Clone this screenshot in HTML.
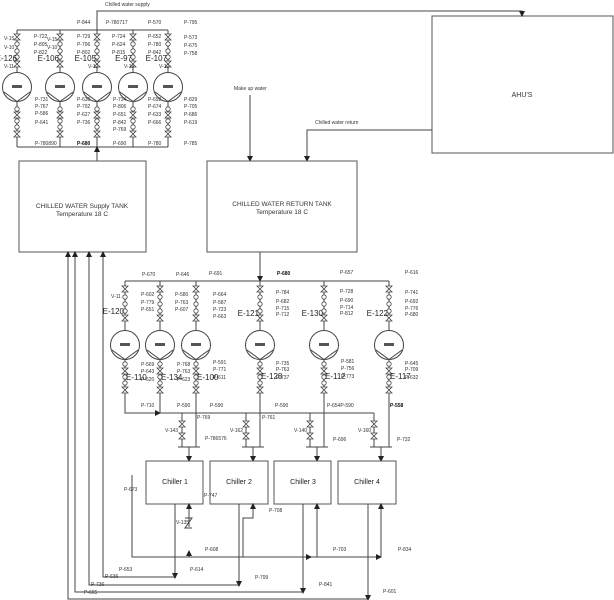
<!DOCTYPE html>
<html><head><meta charset="utf-8"><style>
html,body{margin:0;padding:0;background:#fff;}
svg{display:block;font-family:"Liberation Sans",sans-serif;}
.l{stroke:#444;stroke-width:1;fill:none;}
.t{font-size:5px;fill:#333;}
.b{font-size:5px;fill:#111;font-weight:bold;}
.e{font-size:8px;fill:#222;}
</style></head><body>
<svg width="614" height="600" viewBox="0 0 614 600" xmlns="http://www.w3.org/2000/svg">
<defs>
<marker id="a" markerWidth="6" markerHeight="6" refX="5" refY="3" orient="auto" markerUnits="userSpaceOnUse"><path d="M0,0 L6,3 L0,6 z" fill="#222"/></marker>
<g id="pump">
<circle cx="0" cy="0" r="14.5" fill="#fff" stroke="#444"/>
<polyline points="-13,5 0,14.5 13,5" fill="none" stroke="#444"/>
<rect x="-5" y="-2" width="10" height="3" fill="#555"/>
</g>
<g id="bt"><path d="M-3,-3 L3,-3 L-3,3 L3,3 z" fill="#fff" stroke="#444" stroke-width="0.8"/></g>
<g id="sc"><circle r="2.2" fill="#fff" stroke="#444" stroke-width="0.8"/></g>
<g id="topcol">
<line x1="0" y1="30" x2="0" y2="147" class="l"/>
<use href="#bt" y="37"/><use href="#sc" y="44"/><use href="#sc" y="51"/><use href="#sc" y="57"/><use href="#bt" y="64"/>
<use href="#pump" y="87"/>
<use href="#sc" y="109"/><use href="#bt" y="115"/><use href="#sc" y="121"/><use href="#sc" y="127"/><use href="#bt" y="134"/>
</g>
<g id="lowcol">
<line x1="0" y1="281" x2="0" y2="330" class="l"/>
<use href="#bt" y="289"/><use href="#sc" y="297"/><use href="#sc" y="304"/><use href="#sc" y="311"/><use href="#bt" y="318"/>
<use href="#pump" y="345"/>
<line x1="0" y1="360" x2="0" y2="400" class="l"/>
<use href="#sc" y="364"/><use href="#bt" y="371"/><use href="#sc" y="377"/><use href="#sc" y="383"/><use href="#bt" y="390"/>
</g>
</defs>

<!-- AHU -->
<rect x="432" y="16" width="181" height="137" fill="#fff" stroke="#555"/>
<text x="522" y="97" class="t" style="font-size:7px" text-anchor="middle">AHU'S</text>
<polyline points="97,30 97,11 522,11 522,16" class="l" marker-end="url(#a)"/>
<text x="105" y="6" class="t">Chilled water supply</text>
<polyline points="432,130 307,130 307,161" class="l" marker-end="url(#a)"/>
<text x="315" y="124" class="t">Chilled water return</text>
<line x1="250" y1="95" x2="250" y2="161" class="l" marker-end="url(#a)"/>
<text x="234" y="90" class="t">Make up water</text>

<!-- top pump bank -->
<line x1="17" y1="30" x2="168" y2="30" class="l"/>
<line x1="17" y1="147" x2="168" y2="147" class="l"/>
<use href="#topcol" x="17"/><use href="#topcol" x="60"/><use href="#topcol" x="97"/><use href="#topcol" x="133"/><use href="#topcol" x="168"/>
<line x1="97" y1="161" x2="97" y2="147" class="l" marker-end="url(#a)"/>
<g>
<text x="77" y="24" class="t">P-844</text><text x="106" y="24" class="t">P-780717</text><text x="148" y="24" class="t">P-570</text><text x="184" y="24" class="t">P-795</text>
<text x="4" y="40" class="t">V-15</text><text x="4" y="49" class="t">V-10</text><text x="4" y="68" class="t">V-11</text>
<text x="34" y="38" class="t">P-722</text><text x="34" y="46" class="t">P-805</text><text x="34" y="54" class="t">P-822</text>
<text x="47" y="41" class="t">V-15</text><text x="47" y="49" class="t">V-10</text>
<text x="77" y="38" class="t">P-729</text><text x="77" y="46" class="t">P-796</text><text x="77" y="54" class="t">P-802</text>
<text x="112" y="38" class="t">P-724</text><text x="112" y="46" class="t">P-624</text><text x="112" y="54" class="t">P-815</text>
<text x="148" y="38" class="t">P-652</text><text x="148" y="46" class="t">P-780</text><text x="148" y="54" class="t">P-842</text>
<text x="184" y="39" class="t">P-573</text><text x="184" y="47" class="t">P-675</text><text x="184" y="55" class="t">P-758</text>
<text x="88" y="68" class="t">V-12</text><text x="124" y="68" class="t">V-19</text><text x="159" y="68" class="t">V-12</text>
<text x="35" y="101" class="t">P-731</text><text x="35" y="108" class="t">P-767</text><text x="35" y="115" class="t">P-586</text><text x="35" y="124" class="t">P-641</text>
<text x="77" y="101" class="t">P-630</text><text x="77" y="108" class="t">P-792</text><text x="77" y="116" class="t">P-627</text><text x="77" y="124" class="t">P-736</text>
<text x="113" y="101" class="t">P-734</text><text x="113" y="108" class="t">P-806</text><text x="113" y="116" class="t">P-651</text><text x="113" y="124" class="t">P-842</text><text x="113" y="131" class="t">P-769</text>
<text x="148" y="101" class="t">P-692</text><text x="148" y="108" class="t">P-674</text><text x="148" y="116" class="t">P-633</text><text x="148" y="124" class="t">P-666</text>
<text x="184" y="101" class="t">P-829</text><text x="184" y="108" class="t">P-705</text><text x="184" y="116" class="t">P-686</text><text x="184" y="124" class="t">P-619</text>
<text x="35" y="145" class="t">P-780890</text><text x="77" y="145" class="b">P-680</text><text x="113" y="145" class="t">P-690</text><text x="148" y="145" class="t">P-780</text><text x="184" y="145" class="t">P-785</text>
</g>
<g text-anchor="end">
<text x="17" y="61" class="e">E-126</text><text x="59" y="61" class="e">E-106</text><text x="96" y="61" class="e">E-105</text><text x="132" y="61" class="e">E-97</text><text x="167" y="61" class="e">E-107</text>
</g>

<!-- tanks -->
<rect x="19" y="161" width="127" height="91" fill="#fff" stroke="#555"/>
<text x="82" y="208" class="t" style="font-size:6.5px" text-anchor="middle">CHILLED WATER Supply  TANK</text>
<text x="82" y="216" class="t" style="font-size:6.5px" text-anchor="middle">Temperature 18 C</text>
<rect x="207" y="161" width="150" height="91" fill="#fff" stroke="#555"/>
<text x="282" y="206" class="t" style="font-size:6.5px" text-anchor="middle">CHILLED WATER RETURN TANK</text>
<text x="282" y="214" class="t" style="font-size:6.5px" text-anchor="middle">Temperature 18 C</text>

<!-- lower pump bank -->
<line x1="260" y1="252" x2="260" y2="281" class="l" marker-end="url(#a)"/>
<line x1="125" y1="281" x2="389" y2="281" class="l"/>
<use href="#lowcol" x="125"/><use href="#lowcol" x="160"/><use href="#lowcol" x="196"/><use href="#lowcol" x="260"/><use href="#lowcol" x="324"/><use href="#lowcol" x="389"/>
<polyline points="125,400 125,413 160,413" class="l" marker-end="url(#a)"/>
<line x1="160" y1="400" x2="160" y2="413" class="l"/>
<line x1="160" y1="413" x2="374" y2="413" class="l"/>
<g class="l">
<line x1="196" y1="400" x2="196" y2="447"/><line x1="260" y1="400" x2="260" y2="447"/><line x1="324" y1="400" x2="324" y2="447"/><line x1="389" y1="400" x2="389" y2="447"/>
<line x1="182" y1="413" x2="182" y2="447"/><line x1="246" y1="413" x2="246" y2="447"/><line x1="310" y1="413" x2="310" y2="447"/><line x1="374" y1="413" x2="374" y2="447"/>
<line x1="178" y1="447" x2="200" y2="447"/><line x1="242" y1="447" x2="264" y2="447"/><line x1="306" y1="447" x2="328" y2="447"/><line x1="370" y1="447" x2="392" y2="447"/>
<line x1="189" y1="447" x2="189" y2="461" marker-end="url(#a)"/><line x1="253" y1="447" x2="253" y2="461" marker-end="url(#a)"/><line x1="317" y1="447" x2="317" y2="461" marker-end="url(#a)"/><line x1="381" y1="447" x2="381" y2="461" marker-end="url(#a)"/>
</g>
<g>
<use href="#bt" x="182" y="424"/><use href="#bt" x="182" y="436"/>
<use href="#bt" x="246" y="424"/><use href="#bt" x="246" y="436"/>
<use href="#bt" x="310" y="424"/><use href="#bt" x="310" y="436"/>
<use href="#bt" x="374" y="424"/><use href="#bt" x="374" y="436"/>
</g>
<g text-anchor="end">
<text x="124" y="314" class="e">E-120</text><text x="259" y="316" class="e">E-121</text><text x="323" y="316" class="e">E-130</text><text x="388" y="316" class="e">E-122</text>
</g>
<text x="126" y="380" class="e">E-110</text><text x="161" y="380" class="e">E-134</text><text x="197" y="380" class="e">E-100</text>
<text x="261" y="379" class="e">E-128</text><text x="325" y="379" class="e">E-112</text><text x="390" y="379" class="e">E-117</text>
<g>
<text x="142" y="276" class="t">P-670</text><text x="176" y="276" class="t">P-646</text><text x="209" y="275" class="t">P-691</text><text x="277" y="275" class="b">P-680</text><text x="340" y="274" class="t">P-657</text><text x="405" y="274" class="t">P-616</text>
<text x="111" y="298" class="t">V-11</text><text x="141" y="296" class="t">P-602</text><text x="141" y="304" class="t">P-779</text><text x="141" y="311" class="t">P-651</text>
<text x="175" y="296" class="t">P-580</text><text x="175" y="304" class="t">P-763</text><text x="175" y="311" class="t">P-607</text>
<text x="213" y="296" class="t">P-664</text><text x="213" y="304" class="t">P-587</text><text x="213" y="311" class="t">P-723</text><text x="213" y="318" class="t">P-663</text>
<text x="276" y="294" class="t">P-784</text><text x="276" y="303" class="t">P-682</text><text x="276" y="310" class="t">P-715</text><text x="276" y="316" class="t">P-712</text>
<text x="340" y="293" class="t">P-728</text><text x="340" y="302" class="t">P-690</text><text x="340" y="309" class="t">P-714</text><text x="340" y="315" class="t">P-812</text>
<text x="405" y="294" class="t">P-741</text><text x="405" y="303" class="t">P-692</text><text x="405" y="310" class="t">P-776</text><text x="405" y="316" class="t">P-680</text>
<text x="141" y="366" class="t">P-569</text><text x="141" y="373" class="t">P-643</text><text x="141" y="381" class="t">P-620</text>
<text x="177" y="366" class="t">P-768</text><text x="177" y="373" class="t">P-763</text><text x="177" y="381" class="t">P-623</text>
<text x="213" y="364" class="t">P-591</text><text x="213" y="371" class="t">P-771</text><text x="213" y="379" class="t">P-611</text>
<text x="276" y="365" class="t">P-735</text><text x="276" y="371" class="t">P-763</text><text x="276" y="379" class="t">P-737</text>
<text x="341" y="363" class="t">P-581</text><text x="341" y="370" class="t">P-756</text><text x="341" y="378" class="t">P-773</text>
<text x="405" y="365" class="t">P-645</text><text x="405" y="371" class="t">P-709</text><text x="405" y="379" class="t">P-632</text>
<text x="141" y="407" class="t">P-710</text><text x="177" y="407" class="t">P-590</text><text x="210" y="407" class="t">P-590</text><text x="275" y="407" class="t">P-590</text><text x="327" y="407" class="t">P-654P-590</text><text x="390" y="407" class="b">P-558</text>
<text x="197" y="419" class="t">P-769</text><text x="262" y="419" class="t">P-761</text>
<text x="165" y="432" class="t">V-143</text><text x="230" y="432" class="t">V-162</text><text x="294" y="432" class="t">V-140</text><text x="358" y="432" class="t">V-160</text>
<text x="205" y="440" class="t">P-786576</text><text x="333" y="441" class="t">P-696</text><text x="397" y="441" class="t">P-732</text>
</g>

<!-- chillers -->
<rect x="146" y="461" width="57" height="43" fill="#fff" stroke="#555"/>
<rect x="210" y="461" width="58" height="43" fill="#fff" stroke="#555"/>
<rect x="274" y="461" width="57" height="43" fill="#fff" stroke="#555"/>
<rect x="338" y="461" width="58" height="43" fill="#fff" stroke="#555"/>
<g style="font-size:7px" fill="#222" text-anchor="middle">
<text x="175" y="484">Chiller 1</text><text x="239" y="484">Chiller 2</text><text x="303" y="484">Chiller 3</text><text x="367" y="484">Chiller 4</text>
</g>

<!-- bottom piping -->
<g class="l">
<polyline points="175,504 175,577 103,577 103,252" marker-end="url(#a)"/>
<polyline points="239,504 239,585 89,585 89,252" marker-end="url(#a)"/>
<polyline points="303,504 303,592 75,592 75,252" marker-end="url(#a)"/>
<polyline points="368,504 368,599 68,599 68,252" marker-end="url(#a)"/>
<line x1="175" y1="570" x2="175" y2="578" marker-end="url(#a)"/>
<line x1="239" y1="578" x2="239" y2="586" marker-end="url(#a)"/>
<line x1="303" y1="586" x2="303" y2="593" marker-end="url(#a)"/>
<line x1="368" y1="592" x2="368" y2="600" marker-end="url(#a)"/>
<polyline points="132,475 132,557 381,557"/>
<line x1="300" y1="557" x2="311" y2="557" marker-end="url(#a)"/>
<line x1="370" y1="557" x2="381" y2="557" marker-end="url(#a)"/>
<polyline points="317,557 317,504" marker-end="url(#a)"/>
<polyline points="381,557 381,504" marker-end="url(#a)"/>
<polyline points="243,557 243,518 253,518 253,504" marker-end="url(#a)"/>
<line x1="189" y1="527" x2="189" y2="504" marker-end="url(#a)"/>
<polyline points="185,518 192,518 185,528 192,528"/>
<line x1="189" y1="557" x2="189" y2="551" marker-end="url(#a)"/>
</g>
<g>
<text x="124" y="491" class="t">P-673</text><text x="204" y="497" class="t">P-747</text><text x="176" y="524" class="t">V-135</text>
<text x="269" y="512" class="t">P-708</text><text x="205" y="551" class="t">P-608</text><text x="333" y="551" class="t">P-703</text><text x="398" y="551" class="t">P-834</text>
<text x="119" y="571" class="t">P-653</text><text x="190" y="571" class="t">P-614</text><text x="255" y="579" class="t">P-799</text><text x="319" y="586" class="t">P-841</text><text x="383" y="593" class="t">P-601</text>
<text x="105" y="578" class="t">P-636</text><text x="91" y="586" class="t">P-736</text><text x="84" y="594" class="t">P-665</text>
</g>
</svg>
</body></html>
